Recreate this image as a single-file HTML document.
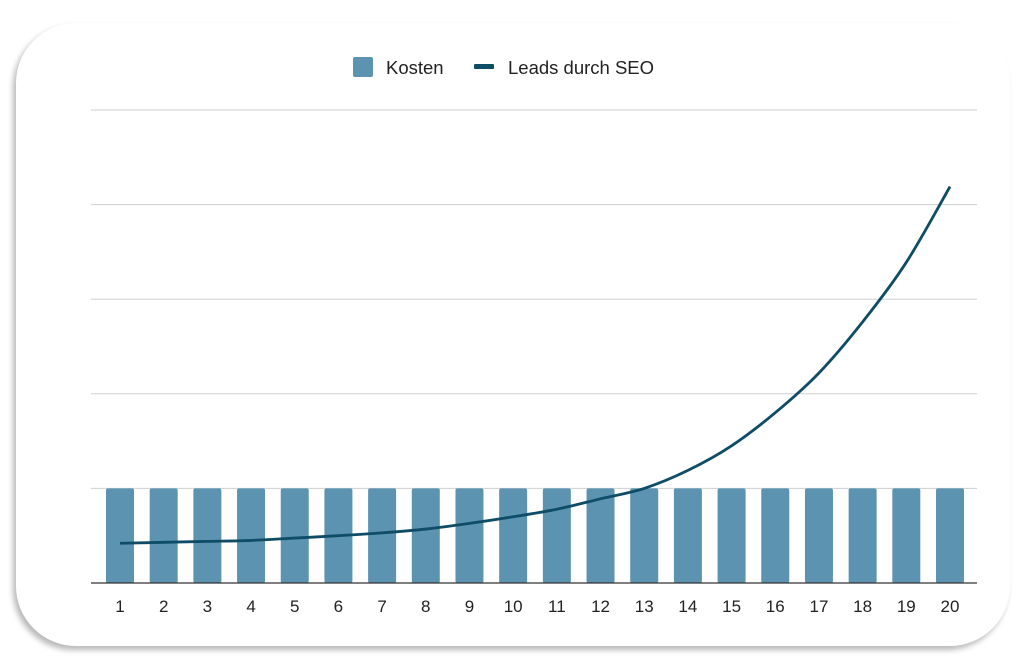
<!DOCTYPE html>
<html><head><meta charset="utf-8"><style>
html,body{margin:0;padding:0;background:#fff;width:1024px;height:670px;overflow:hidden}
#card{position:absolute;left:16px;top:23px;width:994px;height:623px;background:#fff;border-radius:60px;box-shadow:-3px 4px 6px rgba(0,0,0,0.28);}
svg{position:absolute;left:0;top:0}
text{font-family:"Liberation Sans",Arial,sans-serif;fill:#222}
</style></head><body>
<div id="card"></div>
<svg id="chart" width="1024" height="670">
  <g id="legend">
    <g>
      <rect x="353" y="57" width="20" height="20" rx="2" fill="#5b93b1"/>
      <text x="386" y="74" font-size="18.5">Kosten</text>
    </g>
    <g>
      <rect x="474" y="64" width="20" height="5" rx="1" fill="#0f4c66"/>
      <text x="508" y="74" font-size="18.5">Leads durch SEO</text>
    </g>
  </g>
  <g id="grid"></g>
  <g id="bars"></g>
  <g id="xaxis"></g>
  <path id="line" fill="none" stroke="#0f4c66" stroke-width="2.8"/>
</svg>
<script>
const categories = ["1","2","3","4","5","6","7","8","9","10","11","12","13","14","15","16","17","18","19","20"];
const kosten = [1,1,1,1,1,1,1,1,1,1,1,1,1,1,1,1,1,1,1,1];
const leads = [0.42,0.43,0.44,0.45,0.475,0.50,0.53,0.57,0.63,0.70,0.78,0.89,1.0,1.19,1.45,1.80,2.22,2.76,3.39,4.19];
const gridTicks = [0,1,2,3,4,5];

const NS="http://www.w3.org/2000/svg";
const x0=120, x1=950, yBase=583, unit=94.6, left=91, right=977;
const xs=i=>x0+i*(x1-x0)/(categories.length-1);
const ys=v=>yBase-v*unit;
function mk(t,a){const e=document.createElementNS(NS,t);for(const k in a)e.setAttribute(k,a[k]);return e;}
const grid=document.getElementById('grid');
gridTicks.forEach(v=>{if(v===0)return;
  const l=mk('line',{x1:left,x2:right,y1:ys(v),y2:ys(v),stroke:'#cfcfcf','stroke-width':1});
  
  
  grid.appendChild(l);});
const bars=document.getElementById('bars');
kosten.forEach((v,i)=>{
  const r=mk('rect',{x:xs(i)-14,y:ys(v),width:28,height:yBase-ys(v),fill:'#5b93b1',rx:2});
  
  
  bars.appendChild(r);});
const xa=document.getElementById('xaxis');
const base=mk('line',{x1:left,x2:right,y1:yBase,y2:yBase,stroke:'#333','stroke-width':1.3});


xa.appendChild(base);
categories.forEach((c,i)=>{
  const t=mk('text',{x:xs(i),y:612,'text-anchor':'middle','font-size':17});
  t.textContent=c;
  
  
  xa.appendChild(t);});
const pts=leads.map((v,i)=>[xs(i),ys(v)]);
let d='M'+pts[0][0]+','+pts[0][1];
for(let i=0;i<pts.length-1;i++){
  const p0=pts[Math.max(0,i-1)],p1=pts[i],p2=pts[i+1],p3=pts[Math.min(pts.length-1,i+2)];
  const c1=[p1[0]+(p2[0]-p0[0])/6,p1[1]+(p2[1]-p0[1])/6];
  const c2=[p2[0]-(p3[0]-p1[0])/6,p2[1]-(p3[1]-p1[1])/6];
  d+=' C'+c1+' '+c2+' '+p2;}
document.getElementById('line').setAttribute('d',d);
</script>
</body></html>
